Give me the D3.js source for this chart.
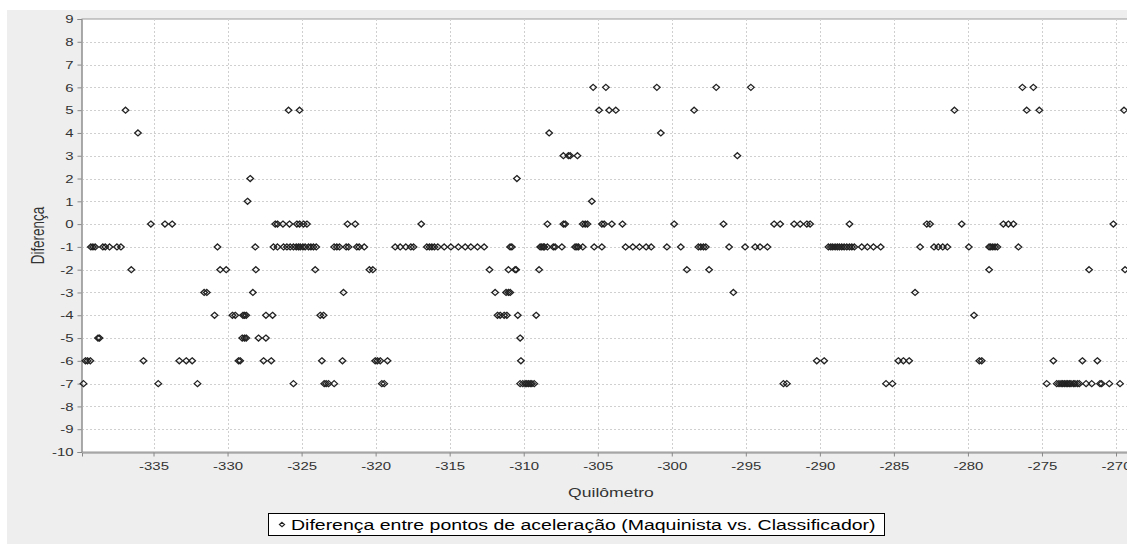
<!DOCTYPE html>
<html><head><meta charset="utf-8">
<script src="https://cdn.jsdelivr.net/npm/d3@7"></script>
<style>html,body{margin:0;padding:0;background:#fff;}svg{display:block;}</style>
</head><body>
<script>
// Data: kilometre positions for each difference level
const level6  = [-305.31,-304.45,-301.01,-297.0,-294.66,-276.32,-275.58];
const level5  = [-336.89,-325.88,-325.14,-304.91,-304.23,-303.78,-298.49,-280.91,-276.03,-275.18,-269.46];
const level4  = [-336.05,-308.28,-300.74];
const level3  = [-307.32,-306.98,-306.86,-306.37,-295.57];
const level2  = [-328.47,-310.46];
const level1  = [-328.65,-305.4];
const level0  = [-335.18,-334.23,-333.74,-326.78,-326.63,-326.26,-325.82,-325.32,-325.14,-324.87,-324.64,-321.9,-321.38,-316.92,-308.4,-307.32,-307.2,-306.01,-305.85,-305.7,-304.72,-304.57,-304.05,-303.33,-299.84,-296.51,-293.09,-292.68,-291.74,-291.33,-290.88,-290.66,-288.0,-282.78,-282.56,-280.42,-277.61,-277.27,-276.93,-270.18];
const levelM1 = [-339.23,-339.09,-338.94,-338.42,-338.26,-337.97,-337.47,-337.2,-330.68,-328.13,
  -326.9,-326.63,-326.22,-325.99,-325.77,-325.55,-325.36,-325.21,-325.09,-324.91,-324.76,-324.53,-324.37,-324.2,-324.01,
  -322.8,-322.62,-322.44,-321.99,-321.83,-321.27,-321.11,-320.77,-318.68,-318.34,-317.96,-317.62,-317.44,
  -316.54,-316.36,-316.2,-316.03,-315.8,-315.37,-314.92,-314.41,-313.95,-313.57,-313.12,-312.67,-310.92,-310.8,
  -308.89,-308.78,-308.67,-308.6,-308.4,-308.0,-307.88,-307.42,-306.53,-306.41,-306.3,-306.01,-305.24,-304.72,-303.12,
  -302.63,-302.18,-301.73,-301.39,-300.33,-299.39,-298.2,-298.04,-297.86,-297.7,-296.13,-295.05,-294.37,-294.04,-293.54,
  -289.42,-289.26,-289.13,-288.97,-288.82,-288.68,-288.52,-288.36,-288.18,-288.0,-287.84,-287.67,-287.17,-286.79,-286.38,-285.89,
  -283.23,-282.29,-282.0,-281.7,-281.39,-279.94,-278.57,-278.46,-278.32,-278.17,-278.01,-276.59];
const levelM2 = [-336.5,-330.5,-330.09,-328.09,-324.08,-320.42,-320.19,-312.31,-311.03,-310.58,-310.51,-308.96,-298.98,-297.48,-278.57,-271.82,-269.39];
const levelM3 = [-331.58,-331.4,-328.29,-322.17,-311.93,-311.19,-311.03,-310.91,-295.84,-283.57];
const levelM4 = [-330.88,-329.67,-329.48,-328.96,-328.86,-328.74,-327.41,-326.96,-323.74,-323.52,-311.77,-311.59,-311.32,-311.14,-310.4,-309.16,-279.59];
const levelM5 = [-338.75,-338.65,-329.01,-328.86,-328.74,-327.91,-327.41,-310.24];
const levelM6 = [-339.6,-339.46,-339.27,-335.68,-333.26,-332.79,-332.39,-329.26,-329.15,-327.57,-327.05,-323.63,-322.24,-320.03,-319.88,-319.69,-319.2,-310.19,-290.21,-289.71,-284.7,-284.36,-283.97,-279.23,-279.07,-274.23,-272.27,-271.26];
const levelM7 = [-339.73,-334.68,-332.03,-325.55,-323.47,-323.34,-323.18,-322.8,-319.58,-319.42,-310.24,-310.06,-309.9,-309.79,-309.68,-309.56,-309.45,-309.29,-292.46,-292.23,-285.53,-285.1,-274.68,-274.0,-273.85,-273.71,-273.6,-273.49,-273.37,-273.26,-273.15,-273.04,-272.88,-272.77,-272.61,-272.48,-272.02,-271.64,-271.08,-270.97,-270.45,-269.73];

const levels = [6,5,4,3,2,1,0,-1,-2,-3,-4,-5,-6,-7];
const levelKm = [level6,level5,level4,level3,level2,level1,level0,levelM1,levelM2,levelM3,levelM4,levelM5,levelM6,levelM7];

const xTicks = [-335,-330,-325,-320,-315,-310,-305,-300,-295,-290,-285,-280,-275,-270];
const yTicks = [-10,-9,-8,-7,-6,-5,-4,-3,-2,-1,0,1,2,3,4,5,6,7,8,9];
const xTitle = "Quilômetro";
const yTitle = "Diferença";
const seriesName = "Diferença entre pontos de aceleração (Maquinista vs. Classificador)";

const points = [];
levels.forEach((lv,i)=>levelKm[i].forEach(k=>points.push({km:k,diff:lv})));

const W = 1127, H = 544;
const SX = 1.3; // horizontal text stretch seen in the reference
const FONT = "'Liberation Sans', Arial, sans-serif";
const fmt = d => String(d);
const svg = d3.select("body").append("svg").attr("width",W).attr("height",H);

svg.append("rect").attr("x",7).attr("y",10).attr("width",W).attr("height",H).attr("fill","#eeeeee");

const L = 82, R = 1140, T = 19, B = 452;
const x = d3.scaleLinear().domain([-339.83,-268.38]).range([L,R]);
const y = d3.scaleLinear().domain([-10,9]).range([B,T]);

svg.append("rect").attr("x",L).attr("y",T).attr("width",R-L).attr("height",B-T).attr("fill","#fff").attr("stroke","#999").attr("stroke-width",1);

const grid = svg.append("g").attr("stroke","#d0d0d0").attr("stroke-width",1).attr("stroke-dasharray","2,2");
grid.selectAll("line.v").data(xTicks).join("line").attr("class","v")
  .attr("x1",d=>Math.round(x(d))+0.5).attr("x2",d=>Math.round(x(d))+0.5).attr("y1",T).attr("y2",B);
grid.selectAll("line.h").data(yTicks.filter(d=>d>-10&&d<9)).join("line").attr("class","h")
  .attr("y1",d=>Math.round(y(d))+0.5).attr("y2",d=>Math.round(y(d))+0.5).attr("x1",L).attr("x2",R);

// axes
const xAxis = d3.axisBottom(x).tickValues(xTicks).tickSize(4).tickFormat(fmt);
const gx = svg.append("g").attr("transform",`translate(0,${B+0.5})`).call(xAxis);
gx.select(".domain").attr("stroke","#888");
gx.selectAll(".tick line").attr("stroke","#888");
gx.selectAll(".tick text").attr("fill","#333").attr("font-family",FONT).attr("font-size",11.5)
  .attr("y",9).attr("transform",`scale(${SX},1)`);

const yAxis = d3.axisLeft(y).tickValues(yTicks).tickSize(4).tickFormat(fmt);
const gy = svg.append("g").attr("transform",`translate(${L-0.5},0)`).call(yAxis);
gy.select(".domain").attr("stroke","#888");
gy.selectAll(".tick line").attr("stroke","#888");
gy.selectAll(".tick text").attr("fill","#333").attr("font-family",FONT).attr("font-size",11.5)
  .attr("x",-8/SX).attr("transform",`scale(${SX},1)`);

// points
const diamond = "M0,-3L3.3,0L0,3L-3.3,0Z";
svg.append("g").selectAll("path").data(points).join("path")
  .attr("transform",d=>`translate(${x(d.km)},${y(d.diff)})`)
  .attr("d",diamond).attr("fill","none").attr("stroke","#222").attr("stroke-width",1.3);

// titles
svg.append("text").attr("transform",`translate(611,497) scale(${SX},1)`).attr("text-anchor","middle")
  .attr("font-family",FONT).attr("font-size",13.5).attr("fill","#333").text(xTitle);
svg.append("text").attr("transform",`translate(44,${(T+B)/2}) scale(${SX},1) rotate(-90)`).attr("text-anchor","middle")
  .attr("font-family",FONT).attr("font-size",13.5).attr("fill","#333").text(yTitle);

// legend
const lg = svg.append("g");
lg.append("rect").attr("x",268.5).attr("y",513.5).attr("width",616).attr("height",22).attr("fill","#fff").attr("stroke","#000");
lg.append("path").attr("transform","translate(282,524.5)").attr("d","M0,-2.2L2.6,0L0,2.2L-2.6,0Z").attr("fill","none").attr("stroke","#222").attr("stroke-width",1.1);
lg.append("text").attr("transform",`translate(291,530) scale(${SX},1)`).attr("font-family",FONT).attr("font-size",15).attr("fill","#000").text(seriesName);
</script>
</body></html>
